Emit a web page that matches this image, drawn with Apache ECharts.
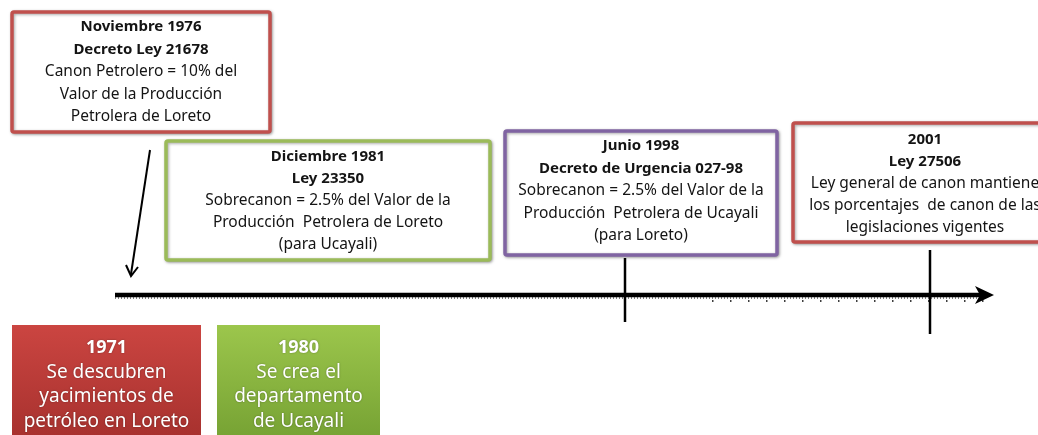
<!DOCTYPE html>
<html>
<head>
<meta charset="utf-8">
<script src="https://cdn.jsdelivr.net/npm/echarts@6/dist/echarts.min.js"></script>
<style>
  html, body { margin: 0; padding: 0; background: #fff; }
  #main { width: 1038px; height: 435px; }
</style>
</head>
<body>
<div id="main"></div>
<script type="text/javascript">
// eventos de la línea de tiempo (recuadros superiores)
var eventTitles = [
  ['Noviembre 1976', 'Decreto Ley 21678'],
  ['Diciembre 1981', 'Ley 23350'],
  ['Junio 1998', 'Decreto de Urgencia 027-98'],
  ['2001', 'Ley 27506']
];
var eventTexts = [
  ['Canon Petrolero = 10% del', 'Valor de la Producción', 'Petrolera de Loreto'],
  ['Sobrecanon = 2.5% del Valor de la', 'Producción  Petrolera de Loreto', '(para Ucayali)'],
  ['Sobrecanon = 2.5% del Valor de la', 'Producción  Petrolera de Ucayali', '(para Loreto)'],
  ['Ley general de canon mantiene', 'los porcentajes  de canon de las', 'legislaciones vigentes']
];
// antecedentes (recuadros inferiores)
var baseYears = ['1971', '1980'];
var baseTexts = [
  ['Se descubren', 'yacimientos de', 'petróleo en Loreto'],
  ['Se crea el', 'departamento', 'de Ucayali']
];

// layout de recuadros
var boxes = [
  { x: 12, y: 12, w: 258, h: 120, color: '#c0504d', top: 27, step: 22.5 },
  { x: 166, y: 141, w: 324, h: 119, color: '#9bbb59', top: 157, step: 22 },
  { x: 505, y: 131, w: 272, h: 124, color: '#8064a2', top: 146, step: 22.5 },
  { x: 793, y: 123, w: 260, h: 119, color: '#c0504d', top: 140, step: 22 }
];
var baseBoxes = [
  { x: 12, y: 325, w: 189, h: 120, c0: '#cb4541', c1: '#a5302d' },
  { x: 217, y: 325, w: 163, h: 120, c0: '#9cc64c', c1: '#74a032' }
];

var FONT = '"Noto Sans", sans-serif';
var elements = [];

boxes.forEach(function (b, i) {
  elements.push({
    type: 'rect',
    shape: { x: b.x, y: b.y, width: b.w, height: b.h, r: 2 },
    style: { fill: '#fff', stroke: b.color, lineWidth: 3.5,
      shadowBlur: 3, shadowColor: 'rgba(0,0,0,0.35)', shadowOffsetX: 1, shadowOffsetY: 1 },
    z: 2
  });
  var cx = b.x + b.w / 2;
  if (i === 3) cx = 925;
  var lines = eventTitles[i].map(function (t) { return { t: t, bold: true }; })
    .concat(eventTexts[i].map(function (t) { return { t: t, bold: false }; }));
  lines.forEach(function (ln, k) {
    elements.push({
      type: 'text',
      style: {
        text: ln.t, x: cx, y: b.top + k * b.step,
        align: 'center', verticalAlign: 'middle',
        font: ln.bold ? 'bold 15px ' + FONT : '15.5px ' + FONT,
        fill: '#141414'
      },
      z: 3
    });
  });
});

baseBoxes.forEach(function (b, i) {
  elements.push({
    type: 'rect',
    shape: { x: b.x, y: b.y, width: b.w, height: b.h },
    style: {
      fill: new echarts.graphic.LinearGradient(0, 0, 0, 1, [
        { offset: 0, color: b.c0 }, { offset: 1, color: b.c1 }
      ])
    },
    z: 2
  });
  var cx = b.x + b.w / 2;
  var lines = [{ t: baseYears[i], bold: true }].concat(
    baseTexts[i].map(function (t) { return { t: t, bold: false }; }));
  lines.forEach(function (ln, k) {
    elements.push({
      type: 'text',
      style: {
        text: ln.t, x: cx, y: 348 + k * 24.5,
        align: 'center', verticalAlign: 'middle',
        font: (ln.bold ? 'bold 18px ' : '19px ') + FONT,
        fill: '#fff', textShadowColor: 'rgba(0,0,0,0.35)', textShadowBlur: 2
      },
      z: 3
    });
  });
});

// eje de tiempo
elements.push({
  type: 'line',
  shape: { x1: 115, y1: 295, x2: 980, y2: 295 },
  style: { stroke: '#000', lineWidth: 4.5 },
  z: 4
});
elements.push({
  type: 'line',
  shape: { x1: 115, y1: 298, x2: 980, y2: 298 },
  style: { stroke: '#000', lineWidth: 1, lineDash: [1, 2] },
  z: 4
});
elements.push({
  type: 'line',
  shape: { x1: 712, y1: 301, x2: 990, y2: 301 },
  style: { stroke: '#000', lineWidth: 1.5, lineDash: [1.5, 16.5] },
  z: 4
});
elements.push({
  type: 'polygon',
  shape: { points: [[975, 286], [994, 295], [975, 304], [980, 295]] },
  style: { fill: '#000' },
  z: 4
});
// marcas
elements.push({ type: 'line', shape: { x1: 625, y1: 258, x2: 625, y2: 322 },
  style: { stroke: '#000', lineWidth: 2.5 }, z: 4 });
elements.push({ type: 'line', shape: { x1: 930, y1: 250, x2: 930, y2: 334 },
  style: { stroke: '#000', lineWidth: 2.5 }, z: 4 });
// flecha 1976
elements.push({ type: 'line', shape: { x1: 150, y1: 150, x2: 131, y2: 274 },
  style: { stroke: '#000', lineWidth: 2 }, z: 4 });
elements.push({ type: 'polyline', shape: { points: [[126, 265], [131, 276], [138, 267]] },
  style: { stroke: '#000', lineWidth: 2, fill: null }, z: 4 });

var myChart = echarts.init(document.getElementById('main'));
myChart.setOption({
  backgroundColor: '#fff',
  animation: false,
  graphic: { elements: elements }
});
</script>
</body>
</html>
